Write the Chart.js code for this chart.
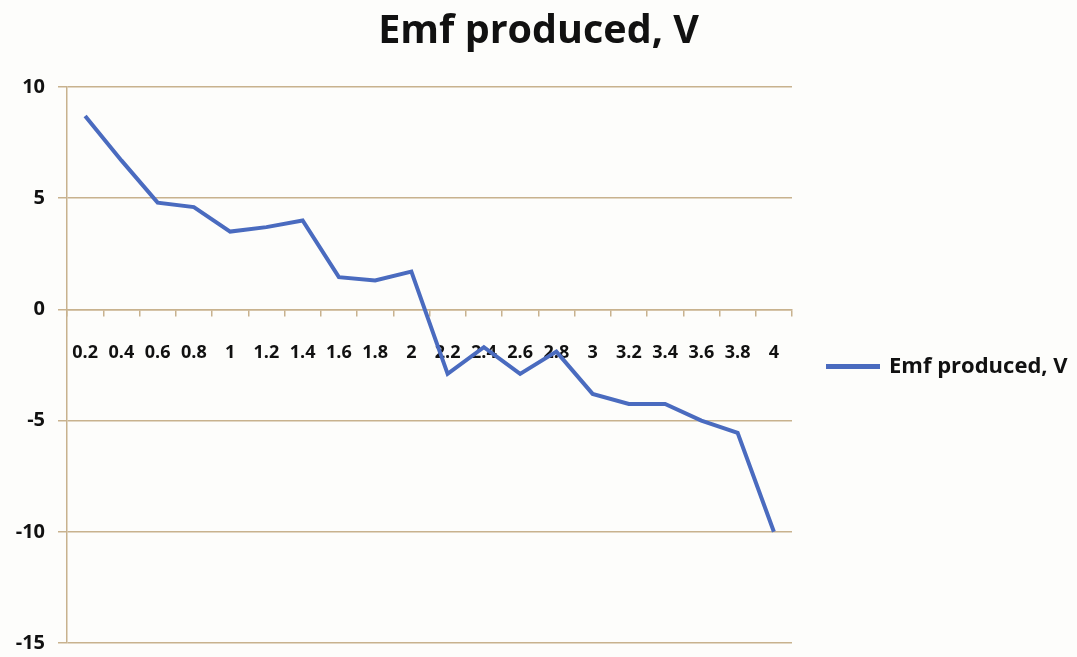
<!DOCTYPE html>
<html>
<head>
<meta charset="utf-8">
<script src="https://cdn.jsdelivr.net/npm/chart.js@4"></script>
<style>
  html, body { margin: 0; padding: 0; background: #fdfdfb; }
  #wrap { width: 1077px; height: 657px; position: relative; }
</style>
</head>
<body>
<div id="wrap"><canvas id="c" width="1077" height="657"></canvas></div>
<script>
const categories = ['0.2','0.4','0.6','0.8','1','1.2','1.4','1.6','1.8','2','2.2','2.4','2.6','2.8','3','3.2','3.4','3.6','3.8','4'];
const emfValues = [8.7, 6.7, 4.8, 4.6, 3.5, 3.7, 4.0, 1.45, 1.3, 1.7, -2.9, -1.7, -2.9, -1.9, -3.8, -4.25, -4.25, -5.0, -5.55, -10.0];
const yTicks = [-15, -10, -5, 0, 5, 10];
const seriesName = 'Emf produced, V';

const gridColor = '#c8b28e';
const lineColor = '#4a6bbf';
const fontFamily = '"Open Sans", Lato, sans-serif';
const LEGEND_W = 285;

const legendWidthPlugin = {
  id: 'legendWidth',
  beforeLayout(chart) {
    const lg = chart.legend;
    if (lg && !lg._widthWrapped) {
      const orig = lg.fit;
      lg.fit = function () { orig.call(this); this.width = LEGEND_W; };
      lg._widthWrapped = true;
    }
  }
};

new Chart(document.getElementById('c'), {
  type: 'line',
  data: {
    labels: categories,
    datasets: [{
      label: seriesName,
      data: emfValues,
      borderColor: lineColor,
      backgroundColor: lineColor,
      borderWidth: 4,
      pointRadius: 0,
      tension: 0
    }]
  },
  plugins: [legendWidthPlugin],
  options: {
    responsive: false,
    animation: false,
    layout: { padding: { left: 0, right: 0, top: 8, bottom: 14 } },
    plugins: {
      title: {
        display: true,
        text: seriesName,
        color: '#111',
        font: { family: fontFamily, size: 39.5, weight: 'bold' },
        padding: { top: 0, bottom: 31.6 }
      },
      legend: {
        position: 'right',
        title: {
          display: true,
          text: ' ',
          font: { size: 12 },
          padding: { top: 0, bottom: 67.6 }
        },
        labels: {
          color: '#111',
          font: { family: fontFamily, size: 22, weight: 'bold' },
          boxWidth: 50,
          boxHeight: 1,
          padding: 36
        }
      },
      tooltip: { enabled: false }
    },
    scales: {
      x: {
        type: 'category',
        position: { y: 0 },
        offset: true,
        grid: {
          display: true,
          drawOnChartArea: false,
          drawTicks: true,
          tickLength: 6,
          offset: true,
          color: gridColor,
          lineWidth: 1.5
        },
        border: { display: true, color: gridColor, width: 1.5 },
        ticks: {
          color: '#111',
          font: { family: fontFamily, size: 18, weight: 'bold' },
          autoSkip: false,
          maxRotation: 0,
          minRotation: 0,
          padding: 27
        }
      },
      y: {
        min: -15,
        max: 10,
        afterBuildTicks: (scale) => { scale.ticks = yTicks.map(v => ({ value: v })); },
        afterFit: (scale) => { scale.width = 67; scale.paddingTop = 0; scale.paddingBottom = 0; },
        grid: {
          color: gridColor,
          lineWidth: 1.5,
          tickLength: 9
        },
        border: { display: true, color: gridColor, width: 1.5 },
        ticks: {
          color: '#111',
          font: { family: fontFamily, size: 20, weight: 'bold' },
          padding: 13
        }
      }
    }
  }
});
</script>
</body>
</html>
